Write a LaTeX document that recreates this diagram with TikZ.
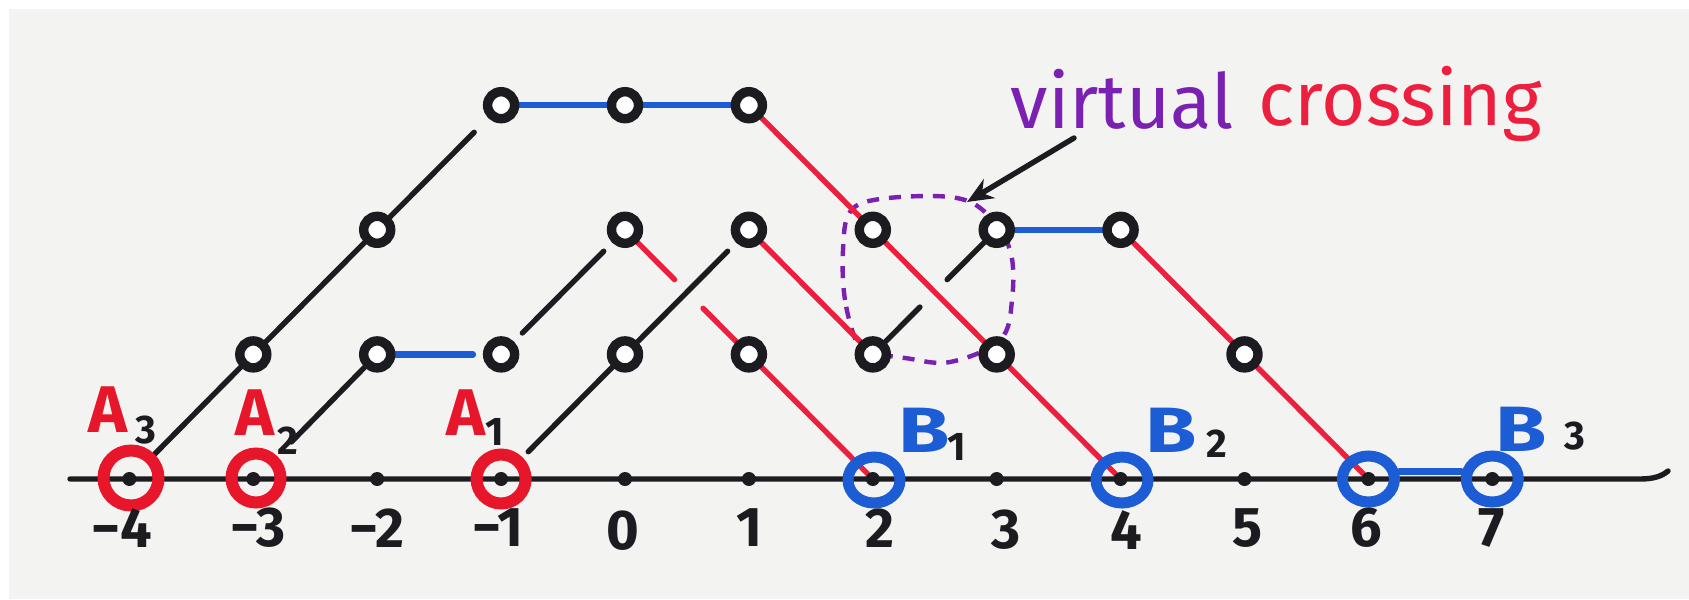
\documentclass[tikz,border=0pt]{standalone}
\usepackage{fontspec}
\setmainfont{Fira Sans}
\usetikzlibrary{shapes.geometric,arrows.meta,calc}
\definecolor{paper}{RGB}{243,243,241}
\definecolor{ink}{RGB}{28,28,32}
\definecolor{mred}{RGB}{236,32,62}
\definecolor{lred}{RGB}{232,22,42}
\definecolor{mblue}{RGB}{28,92,212}
\definecolor{mpurple}{RGB}{122,32,178}
\pgfdeclarelayer{paperlayer}
\pgfdeclarelayer{linelayer}
\pgfsetlayers{paperlayer,linelayer,main}
\begin{document}
\begin{tikzpicture}[x=0.5pt,y=-0.5pt,
  vtx/.style={circle,draw=ink,fill=white,line width=4.7pt,minimum size=13.5pt,inner sep=0pt},
  axdot/.style={circle,fill=ink,minimum size=7pt,inner sep=0pt},
  ringA/.style={circle,draw=lred,line width=6pt,minimum size=24.5pt,inner sep=0pt},
  ringB/.style={ellipse,draw=mblue,line width=5.5pt,minimum width=26pt,minimum height=23pt,inner sep=0pt},
  blk/.style={draw=ink,line width=2.7pt,line cap=round},
  rd/.style={draw=mred,line width=2.7pt,line cap=round},
  bl/.style={draw=mblue,line width=3.2pt,line cap=round},
  lblA/.style={text=lred,font=\bfseries\fontsize{33}{33}\selectfont,inner sep=0pt},
  lblB/.style={text=mblue,font=\bfseries\fontsize{32}{32}\selectfont,inner sep=0pt},
  subl/.style={text=ink,font=\bfseries\fontsize{20}{20}\selectfont,inner sep=0pt},
  num/.style={text=ink,font=\bfseries\fontsize{28}{28}\selectfont,inner sep=0pt},
  bigtxt/.style={anchor=base,font=\fontsize{38}{38}\selectfont,inner sep=0pt},
]
\useasboundingbox (0,0) rectangle (1689,599);
\begin{pgfonlayer}{paperlayer}
  \fill[white] (0,0) rectangle (1689,599);
  \fill[paper] (9,9) rectangle (1689,599);
\end{pgfonlayer}

% axis
\coordinate (axL) at (70,479);
\coordinate (axR) at (1668,471);
\begin{pgfonlayer}{linelayer}
  \draw[blk] (axL) -- (1640,479) .. controls (1654,479) and (1662,476) .. (axR);
\end{pgfonlayer}

% axis dots
\node[axdot] (am4) at (129.4,479) {};
\node[axdot] (am3) at (253.3,479) {};
\node[axdot] (am2) at (377.2,479) {};
\node[axdot] (am1) at (501.1,479) {};
\node[axdot] (ap0) at (625,479) {};
\node[axdot] (ap1) at (748.9,479) {};
\node[axdot] (ap2) at (872.8,479) {};
\node[axdot] (ap3) at (996.7,479) {};
\node[axdot] (ap4) at (1120.6,479) {};
\node[axdot] (ap5) at (1244.5,479) {};
\node[axdot] (ap6) at (1368.4,479) {};
\node[axdot] (ap7) at (1492.3,479) {};

% rings on axis
\node[ringA,minimum size=27.5pt] (ringA3) at (131,478) {};
\node[ringA] (ringA2) at (256,478) {};
\node[ringA] (ringA1) at (501.1,479) {};
\node[ringB] (ringB1) at (874,480) {};
\node[ringB] (ringB2) at (1122,480) {};
\node[ringB] (ringB3a) at (1368.4,479) {};
\node[ringB] (ringB3b) at (1492.3,479) {};

% vertices
\node[vtx] (r1m3) at (253.3,354.4) {};
\node[vtx] (r1m2) at (377.2,354.4) {};
\node[vtx] (r1m1) at (501.1,354.4) {};
\node[vtx] (r1p0) at (625,354.4) {};
\node[vtx] (r1p1) at (748.9,354.4) {};
\node[vtx] (r1p2) at (872.8,354.4) {};
\node[vtx] (r1p3) at (996.7,354.4) {};
\node[vtx] (r1p5) at (1244.5,354.4) {};
\node[vtx] (r2m2) at (377.2,229.8) {};
\node[vtx] (r2p0) at (625,229.8) {};
\node[vtx] (r2p1) at (748.9,229.8) {};
\node[vtx] (r2p2) at (872.8,229.8) {};
\node[vtx] (r2p3) at (996.7,229.8) {};
\node[vtx] (r2p4) at (1120.6,229.8) {};
\node[vtx] (r3m1) at (501.1,105.2) {};
\node[vtx] (r3p0) at (625,105.2) {};
\node[vtx] (r3p1) at (748.9,105.2) {};

\begin{pgfonlayer}{linelayer}
  % virtual crossing loop
  \draw[draw=mpurple,line width=2.2pt,dash pattern=on 6pt off 5pt]
    plot[smooth cycle,tension=0.6] coordinates {(858,345) (845,300) (843,250) (850,212) (880,199) (950,197) (985,212) (1010,250) (1012,300) (1000,340) (950,362) (905,358) (875,353)};
  % black strands
  \draw[blk] (ringA3) -- (r1m3);
  \draw[blk] (r1m3) -- (r2m2);
  \draw[blk,shorten >=10pt] (r2m2) -- (r3m1);
  \draw[blk,shorten >=10pt] (r1m2) -- (ringA2);
  \draw[blk,shorten <=4pt] (ringA1) -- (r1p0);
  \draw[blk,shorten <=6pt,shorten >=6pt] (r1m1) -- (r2p0);
  \draw[blk,shorten >=6pt] (r1p0) -- (r2p1);
  \draw[blk] (r1p2) -- ($(r1p2)!0.38!(r2p3)$);
  \draw[blk] ($(r1p2)!0.6!(r2p3)$) -- (r2p3);
  % red strands
  \draw[rd] (r3p1) -- (r2p2);
  \draw[rd] (r2p2) -- (r1p3);
  \draw[rd] (r1p3) -- (ap4);
  \draw[rd] (r2p0) -- ($(r2p0)!0.4!(r1p1)$);
  \draw[rd] ($(r2p0)!0.63!(r1p1)$) -- (r1p1);
  \draw[rd] (r1p1) -- (ap2);
  \draw[rd] (r2p1) -- (r1p2);
  \draw[rd] (r2p4) -- (r1p5);
  \draw[rd] (r1p5) -- (ap6);
  % blue strands
  \draw[bl] (r3m1) -- (r3p0);
  \draw[bl] (r3p0) -- (r3p1);
  \draw[bl,shorten >=5pt] (r1m2) -- (r1m1);
  \draw[bl] (r2p3) -- (r2p4);
  \draw[bl,line width=3.5pt] ([yshift=4pt]ringB3a.east) -- ([yshift=4pt]ringB3b.west);
\end{pgfonlayer}

% labels A, B
\node[lblA] (tA3) at (108,410) {A};
\node[subl] (tA3s) at (146,430) {3};
\node[lblA] (tA2) at (255,413) {A};
\node[subl] (tA2s) at (288,441) {2};
\node[lblA] (tA1) at (466,413) {A};
\node[subl] (tA1s) at (495,432) {1};
\node[lblB] (tB1) at (924,430) {\scalebox{1.3}[1]{B}};
\node[subl] (tB1s) at (957,447) {1};
\node[lblB] (tB2) at (1171,430) {\scalebox{1.3}[1]{B}};
\node[subl] (tB2s) at (1217,444) {2};
\node[lblB] (tB3) at (1521,429) {\scalebox{1.3}[1]{B}};
\node[subl] (tB3s) at (1575,436) {3};

% numbers
\node[num] (nm4) at (122,528) {−4};
\node[num] (nm3) at (258,528) {−3};
\node[num] (nm2) at (377,528) {−2};
\node[num] (nm1) at (498,528) {−1};
\node[num] (np0) at (623,531) {0};
\node[num] (np1) at (749,528) {1};
\node[num] (np2) at (880,528) {2};
\node[num] (np3) at (1006,530) {3};
\node[num] (np4) at (1126,530) {4};
\node[num] (np5) at (1247,528) {5};
\node[num] (np6) at (1366,528) {6};
\node[num] (np7) at (1492,528) {7};

% title and arrow
\node[bigtxt,text=mpurple] (tvirt) at (1122,128) {virtual};
\node[bigtxt,text=mred] (tcross) at (1400,126) {crossing};
\coordinate (arrS) at (1074,138);
\coordinate (arrE) at (967,202);
\draw[blk,-{Stealth[length=13pt,width=11pt]}] (arrS) -- (arrE);
\end{tikzpicture}
\end{document}
